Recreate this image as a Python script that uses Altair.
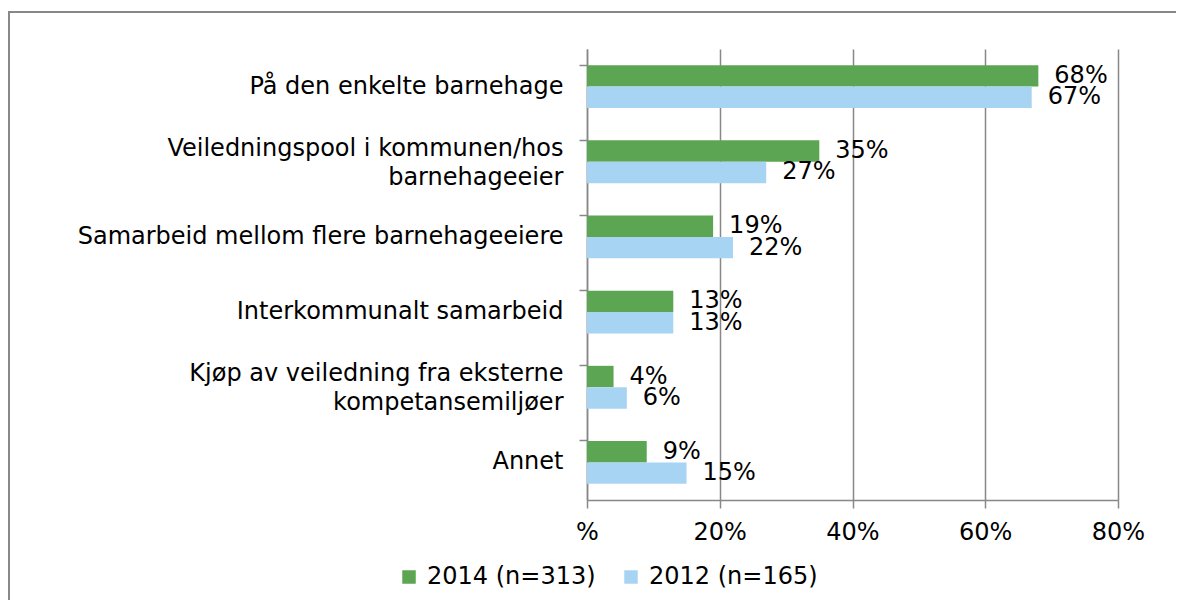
import altair as alt
import pandas as pd

categories = [
    "På den enkelte barnehage",
    "Veiledningspool i kommunen/hos|barnehageeier",
    "Samarbeid mellom flere barnehageeiere",
    "Interkommunalt samarbeid",
    "Kjøp av veiledning fra eksterne|kompetansemiljøer",
    "Annet",
]
series = ["2014 (n=313)", "2012 (n=165)"]
values_2014 = [68, 35, 19, 13, 4, 9]
values_2012 = [67, 27, 22, 13, 6, 15]
colors = ["#5CA552", "#A8D4F4"]
x_ticks = [0, 20, 40, 60, 80]

rows = []
for c, a, b in zip(categories, values_2014, values_2012):
    rows.append({"cat": c, "series": series[0], "value": a, "label": f"{a}%"})
    rows.append({"cat": c, "series": series[1], "value": b, "label": f"{b}%"})
df = pd.DataFrame(rows)

FONT = "DejaVu Sans"
FS = 24

y_enc = alt.Y(
    "cat:N",
    sort=categories,
    title=None,
    scale=alt.Scale(paddingInner=0.43, paddingOuter=0.215),
    axis=alt.Axis(
        labelExpr="split(datum.label, '|')",
        labelFontSize=FS,
        labelFont=FONT,
        labelColor="#000000",
        labelLineHeight=29,
        labelOffset=alt.condition(
            "indexof(datum.value, '|') >= 0", alt.value(-13), alt.value(0)
        ),
        labelPadding=16,
        tickSize=8,
        tickColor="#888888",
        tickWidth=1.5,
        bandPosition=0,
        domainColor="#888888",
        domainWidth=1.5,
        grid=False,
        labelLimit=560,
    ),
)

x_enc = alt.X(
    "value:Q",
    title=None,
    scale=alt.Scale(domain=[0, 80], nice=False),
    axis=alt.Axis(
        values=x_ticks,
        labelExpr="datum.value == 0 ? '%' : datum.value + '%'",
        labelFontSize=FS,
        labelFont=FONT,
        labelColor="#000000",
        labelPadding=12,
        labelFlush=False,
        tickSize=8,
        tickColor="#888888",
        tickWidth=1.5,
        domainColor="#888888",
        domainWidth=1.5,
        grid=True,
        gridColor="#888888",
        gridWidth=1.5,
    ),
)

yoff = alt.YOffset("series:N", sort=series)

bars = alt.Chart(df).mark_bar().encode(
    y=y_enc,
    x=x_enc,
    yOffset=yoff,
    color=alt.Color(
        "series:N",
        sort=series,
        scale=alt.Scale(domain=series, range=colors),
        legend=alt.Legend(
            title=None,
            orient="none",
            legendX=-190,
            legendY=516,
            direction="horizontal",
            symbolType="square",
            symbolSize=182,
            symbolStrokeWidth=0,
            labelFontSize=FS,
            labelFont=FONT,
            labelColor="#000000",
            labelOffset=6,
            labelLimit=400,
            columnPadding=23,
            padding=0,
        ),
    ),
)

texts = alt.Chart(df).mark_text(
    align="left", baseline="middle", dx=16, fontSize=FS, font=FONT, color="#000000"
).encode(
    y=alt.Y("cat:N", sort=categories),
    x=alt.X("value:Q"),
    yOffset=yoff,
    text="label:N",
)

frame = alt.Chart(pd.DataFrame({"a": [0]})).mark_rect(
    fill=None, stroke="#888888", strokeWidth=2
).encode(
    x=alt.value(-578),
    x2=alt.value(700),
    y=alt.value(-37),
    y2=alt.value(600),
)

chart = alt.layer(frame, bars, texts).properties(
    width=531,
    height=451,
    autosize=alt.AutoSizeParams(type="none"),
    padding={"left": 579, "top": 41, "right": 58, "bottom": 100},
).configure_view(stroke=None)

chart.save("out.html", embed_options={"renderer": "svg", "actions": False})
